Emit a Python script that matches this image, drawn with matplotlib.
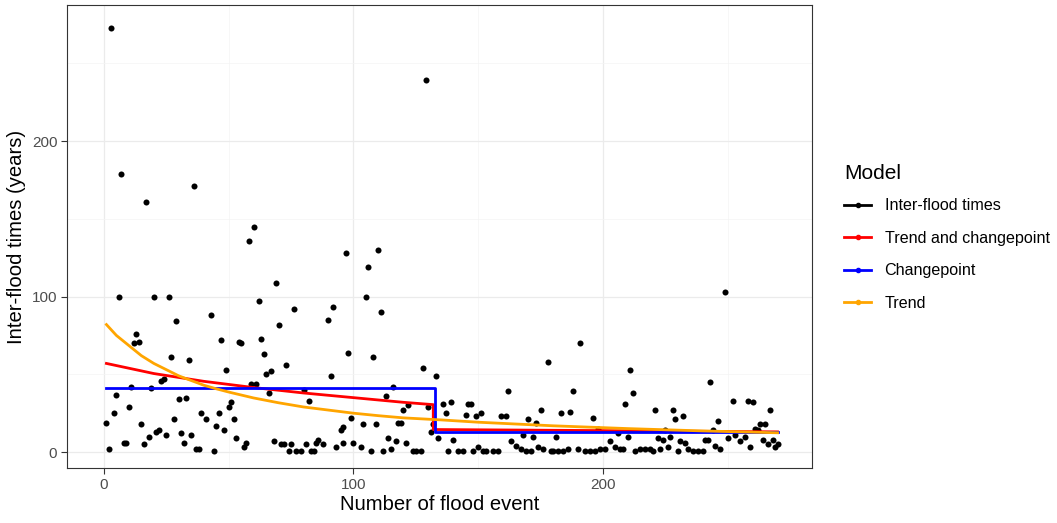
import numpy as np
import matplotlib.pyplot as plt
from matplotlib.lines import Line2D

plt.rcParams['font.family'] = ['Liberation Sans', 'DejaVu Sans']

# inter-flood times (event number, years)
event = [1, 2, 3, 4, 5, 6, 7, 8, 9, 10, 11, 12, 13, 14, 15, 16, 17, 18, 19, 20,
         21, 22, 23, 24, 25, 26, 27, 28, 29, 30, 31, 32, 33, 34, 35, 36, 37, 38, 39, 41,
         43, 44, 45, 46, 47, 48, 49, 50, 51, 52, 53, 54, 55, 56, 57, 58, 59, 60, 61, 62,
         63, 64, 65, 66, 67, 68, 69, 70, 71, 72, 73, 74, 75, 76, 77, 79, 80, 81, 82, 83,
         84, 85, 86, 88, 90, 91, 92, 93, 95, 96, 96, 97, 98, 99, 100, 103, 104, 105, 106, 107,
         108, 109, 110, 111, 112, 113, 114, 115, 116, 117, 118, 119, 120, 121, 122, 124, 125, 127, 128, 129,
         130, 131, 132, 133, 134, 136, 137, 138, 139, 140, 142, 144, 145, 146, 147, 148, 149, 150, 151, 152,
         153, 156, 158, 159, 161, 162, 163, 165, 167, 168, 169, 170, 171, 172, 173, 174, 175, 176, 178, 179,
         180, 181, 182, 183, 184, 186, 187, 188, 190, 191, 193, 195, 196, 197, 198, 199, 201, 203, 205, 206,
         207, 208, 209, 210, 211, 212, 213, 215, 217, 219, 220, 221, 222, 223, 224, 225, 226, 227, 228, 229,
         230, 231, 232, 233, 234, 236, 238, 240, 241, 242, 243, 244, 245, 246, 247, 249, 250, 252, 253, 255,
         257, 258, 259, 260, 261, 262, 263, 264, 265, 266, 267, 268, 269, 270]
times = [19, 2, 273, 25, 37, 100, 179, 6, 6, 29, 42, 70, 76, 71, 18, 5, 161, 10, 41, 100,
         13, 14, 46, 47, 11, 100, 61, 21, 84, 34, 12, 6, 35, 59, 11, 171, 2, 2, 25, 21,
         88, 1, 17, 25, 72, 14, 53, 29, 32, 21, 9, 71, 70, 3, 6, 136, 44, 145, 44, 97,
         73, 63, 50, 38, 52, 7, 109, 82, 5, 5, 56, 1, 5, 92, 1, 1, 40, 5, 33, 1,
         1, 6, 8, 5, 85, 49, 93, 3, 14, 16, 6, 128, 64, 22, 6, 3, 18, 100, 119, 1,
         61, 18, 130, 90, 1, 36, 9, 2, 42, 7, 19, 19, 27, 6, 30, 1, 1, 1, 54, 239,
         29, 13, 18, 49, 9, 31, 25, 1, 32, 8, 1, 1, 24, 31, 31, 1, 23, 3, 25, 1,
         1, 1, 1, 23, 23, 39, 7, 4, 2, 11, 1, 21, 1, 10, 19, 3, 27, 2, 58, 1,
         1, 10, 1, 25, 1, 2, 26, 39, 2, 70, 1, 1, 22, 1, 15, 2, 2, 7, 3, 12,
         2, 2, 31, 10, 53, 38, 1, 2, 2, 2, 1, 27, 9, 2, 8, 14, 3, 10, 27, 21,
         1, 7, 23, 6, 2, 1, 1, 1, 8, 8, 45, 14, 4, 20, 2, 103, 9, 33, 11, 7,
         10, 33, 3, 32, 15, 14, 18, 8, 18, 5, 27, 8, 3, 5]

# fitted models
trend_x = [1, 5, 10, 15, 20, 25, 30, 35, 40, 45, 50, 60, 70, 80, 90, 100, 110,
           120, 135, 150, 180, 210, 240, 270]
trend_y = [82, 75, 68.5, 62, 57, 53, 49, 46, 43, 40.7, 38.6, 34.8, 31.7, 29, 27,
           25, 23.4, 22, 20.7, 19.2, 16.9, 15.1, 13.6, 12.4]

tcp_x = [1, 20, 40, 60, 80, 100, 120, 132, 132, 200, 270]
tcp_y = [57, 50.5, 45.5, 41.5, 38, 35, 32, 30.5, 14.5, 13.8, 13]

cp_x = [1, 132.5, 132.5, 270]
cp_y = [41.5, 41.5, 13, 13]

fig = plt.figure(figsize=(10.57, 5.23), dpi=100)
ax = fig.add_axes([0.0634, 0.105, 0.7048, 0.8854])

ax.scatter(event, times, s=19, color='black', zorder=3, linewidths=0)
ax.plot(tcp_x, tcp_y, color='#FF0000', lw=2.0, zorder=4)
ax.plot(cp_x, cp_y, color='#0000FF', lw=2.0, zorder=5)
ax.plot(trend_x, trend_y, color='#FFA500', lw=2.0, zorder=6)

ax.set_xlim(-14.8, 283.8)
ax.set_ylim(-10.3, 287.5)
ax.set_xticks([0, 100, 200])
ax.set_yticks([0, 100, 200])
ax.set_xticks([50, 150, 250], minor=True)
ax.set_yticks([50, 150, 250], minor=True)
ax.grid(True, which='major', color='#EBEBEB', lw=0.9, zorder=0)
ax.grid(True, which='minor', color='#F4F4F4', lw=0.5, zorder=0)
ax.set_axisbelow(True)
ax.tick_params(which='minor', length=0)
ax.tick_params(which='major', length=4, width=0.8, color='#333333',
               labelsize=11, labelcolor='#4D4D4D', pad=3)
for sp in ax.spines.values():
    sp.set_color('#333333')
    sp.set_linewidth(0.8)

ax.set_xlabel('Number of flood event', fontsize=14.6, labelpad=2)
ax.set_ylabel('Inter-flood times (years)', fontsize=14.6, labelpad=4)

handles = [
    Line2D([], [], color='black', lw=2.0, marker='o', markersize=3),
    Line2D([], [], color='#FF0000', lw=2.0, marker='o', markersize=3),
    Line2D([], [], color='#0000FF', lw=2.0, marker='o', markersize=3),
    Line2D([], [], color='#FFA500', lw=2.0, marker='o', markersize=3),
]
labels = ['Inter-flood times', 'Trend and changepoint', 'Changepoint', 'Trend']
leg = fig.legend(handles, labels, title='Model', loc='upper left',
                 bbox_to_anchor=(0.785, 0.714), frameon=False, fontsize=11.6,
                 title_fontsize=15, handlelength=1.65, handletextpad=0.85,
                 labelspacing=1.08)
leg._legend_box.align = 'left'
leg._legend_box.sep = 11

fig.savefig('out.png', dpi=100)
